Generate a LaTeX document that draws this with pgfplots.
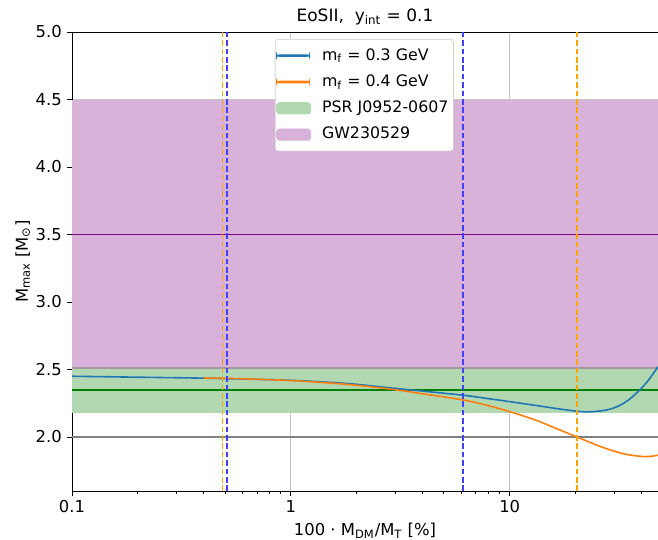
\documentclass[border=0pt]{standalone}
\usepackage{fontspec}
\setmainfont{DejaVu Sans}
\usepackage{pgfplots}
\pgfplotsset{compat=1.18}
\usetikzlibrary{calc}

\definecolor{mplblue}{HTML}{1F77B4}
\definecolor{mplorange}{HTML}{FF7F0E}
\definecolor{mgreen}{HTML}{008000}
\definecolor{mpurple}{HTML}{800080}
\definecolor{dorange}{HTML}{FFA500}
\definecolor{dblue}{RGB}{64,64,255}
% fills as drawn at alpha 0.3 on white
\definecolor{gwfill}{RGB}{217,178,217}
\definecolor{psrfill}{RGB}{178,216,178}
\definecolor{bothfill}{RGB}{163,151,163}

% legend handles for the two curves
\pgfplotsset{
  legblue/.style={legend image code/.code={\fill[mplblue] (0pt,-0.45pt) rectangle (16.5pt,0.45pt);}},
  legorange/.style={legend image code/.code={\fill[mplorange] (0pt,-0.45pt) rectangle (16.5pt,0.45pt);}},
}

\begin{document}
\begin{tikzpicture}
\begin{axis}[name=ax, scale only axis,
  width=293pt, height=229.5pt,
  xmode=log, xmin=0.1, xmax=47.6, ymin=1.6, ymax=5,
  xtick={0.1,1,10}, xticklabels={0.1,1,10},
  minor xtick={0.2,0.3,0.4,0.5,0.6,0.7,0.8,0.9,2,3,4,5,6,7,8,9,20,30,40},
  ytick={2,2.5,3,3.5,4,4.5,5},
  yticklabel style={/pgf/number format/fixed,/pgf/number format/fixed zerofill,/pgf/number format/precision=1, xshift=1pt},
  xticklabel style={yshift=1.5pt},
  /pgf/number format/assume math mode=true,
  tick label style={font=\fontsize{8.2}{9}\selectfont},
  tick align=outside, tick pos=left,
  major tick length=2.6pt, minor tick length=1.5pt,
  every tick/.style={black, line width=0.4pt},
  grid=major, major grid style={color=black!22, line width=0.4pt},
  axis line style={line width=0.4pt},
  title={EoSII,\ \ y\textsubscript{int} = 0.1},
  title style={font=\fontsize{8.5}{10}\selectfont, yshift=-6pt},
  xlabel={100 · M\textsubscript{DM}/M\textsubscript{T} [\%]},
  xlabel style={font=\fontsize{8.2}{9}\selectfont, yshift=1.5pt},
  ylabel={M\textsubscript{max} [M\textsubscript{⊙}]},
  ylabel style={font=\fontsize{8.2}{9}\selectfont, yshift=-4pt},
  legend style={at={(0.346,0.985)}, anchor=north west, font=\fontsize{7.9}{9}\selectfont,
    draw=black!18, fill=white, rounded corners=1.5pt,
    row sep=1.8pt, column sep=3.5pt, inner xsep=0.5pt, inner ysep=2.5pt},
  legend cell align=left,
]
% bands
\addplot[forget plot, draw=none, fill=gwfill] coordinates {(0.1,2.52) (47.6,2.52) (47.6,4.5) (0.1,4.5)} -- cycle;
\addplot[forget plot, draw=none, fill=psrfill] coordinates {(0.1,2.18) (47.6,2.18) (47.6,2.5) (0.1,2.5)} -- cycle;
\addplot[forget plot, draw=none, fill=bothfill] coordinates {(0.1,2.5) (47.6,2.5) (47.6,2.52) (0.1,2.52)} -- cycle;
\addplot[forget plot, draw=mgreen, line width=0.9pt] coordinates {(0.1,2.35) (47.6,2.35)};
\addplot[forget plot, draw=mpurple, line width=0.9pt] coordinates {(0.1,3.5) (47.6,3.5)};
\addplot[forget plot, draw=gray, line width=1pt] coordinates {(0.1,2.0) (47.6,2.0)};

% m_f = 0.3 GeV
\addplot[forget plot, draw=mplblue, line width=0.8pt, smooth] coordinates {
(0.1,2.450) (0.2,2.443) (0.4,2.436) (0.51,2.432) (0.7,2.427) (1,2.420) (1.5,2.405)
(2,2.390) (3,2.360) (4,2.340) (6.1,2.310) (8,2.284) (10,2.262) (13,2.235) (16.5,2.21)
(20,2.192) (22.5,2.186) (26,2.193) (29,2.208) (32,2.236) (35,2.275) (39.4,2.35)
(43,2.42) (47.6,2.52)};

% m_f = 0.4 GeV
\addplot[forget plot, draw=mplorange, line width=0.8pt, smooth] coordinates {
(0.4,2.437) (0.49,2.435) (0.7,2.428) (1,2.418) (1.5,2.400) (2,2.383) (3,2.350)
(4,2.320) (6.1,2.275) (8,2.232) (10,2.188) (13,2.128) (16.5,2.06) (20.3,2.0)
(25,1.94) (30,1.895) (35,1.868) (41,1.855) (45,1.858) (47.6,1.866)};

% threshold lines
\addplot[forget plot, draw=dorange, line width=0.8pt, dash pattern=on 2.8pt off 1.4pt] coordinates {(0.488,1.6) (0.488,5)};
\addplot[forget plot, draw=dorange, line width=0.8pt, dash pattern=on 2.8pt off 1.4pt] coordinates {(20.3,1.6) (20.3,5)};
\addplot[forget plot, draw=dblue, line width=0.8pt, dash pattern=on 2.8pt off 1.4pt] coordinates {(0.51,1.6) (0.51,5)};
\addplot[forget plot, draw=dblue, line width=0.8pt, dash pattern=on 2.8pt off 1.4pt] coordinates {(6.1,1.6) (6.1,5)};

% legend
\addlegendimage{legblue}
\addlegendentry{m\textsubscript{f} = 0.3 GeV}
\addlegendimage{legorange}
\addlegendentry{m\textsubscript{f} = 0.4 GeV}
\addlegendimage{area legend, draw=psrfill, fill=psrfill}
\addlegendentry{PSR J0952-0607}
\addlegendimage{area legend, draw=gwfill, fill=gwfill}
\addlegendentry{GW230529}
\end{axis}
\pgfresetboundingbox
\path[use as bounding box] ($(ax.south west)+(-36pt,-24.5pt)$) rectangle ($(ax.north east)+(0pt,16pt)$);
\end{tikzpicture}
\end{document}
